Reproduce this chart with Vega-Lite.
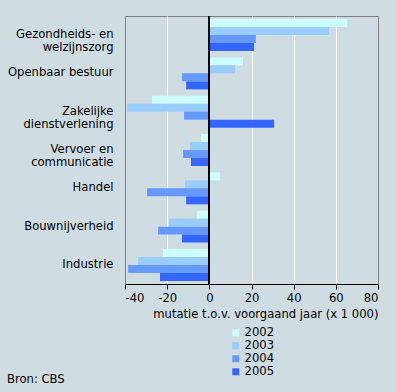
{
  "$schema": "https://vega.github.io/schema/vega-lite/v6.json",
  "width": 253,
  "height": 268,
  "autosize": "none",
  "padding": {"left": 125, "top": 16, "right": 18, "bottom": 108},
  "background": "#cfdce1",
  "config": {
    "font": "DejaVu Sans",
    "view": {"fill": "#cfdce1", "stroke": "#808080", "strokeWidth": 1}
  },
  "data": {
    "values": [
      {"sector": "Gezondheids- en welzijnszorg", "jaar": "2002", "mutatie": 65.3},
      {"sector": "Gezondheids- en welzijnszorg", "jaar": "2003", "mutatie": 56.8},
      {"sector": "Gezondheids- en welzijnszorg", "jaar": "2004", "mutatie": 22.1},
      {"sector": "Gezondheids- en welzijnszorg", "jaar": "2005", "mutatie": 21.2},
      {"sector": "Openbaar bestuur", "jaar": "2002", "mutatie": 16.0},
      {"sector": "Openbaar bestuur", "jaar": "2003", "mutatie": 12.2},
      {"sector": "Openbaar bestuur", "jaar": "2004", "mutatie": -13.0},
      {"sector": "Openbaar bestuur", "jaar": "2005", "mutatie": -11.0},
      {"sector": "Zakelijke dienstverlening", "jaar": "2002", "mutatie": -27.2},
      {"sector": "Zakelijke dienstverlening", "jaar": "2003", "mutatie": -39.0},
      {"sector": "Zakelijke dienstverlening", "jaar": "2004", "mutatie": -12.0},
      {"sector": "Zakelijke dienstverlening", "jaar": "2005", "mutatie": 30.7},
      {"sector": "Vervoer en communicatie", "jaar": "2002", "mutatie": -3.9},
      {"sector": "Vervoer en communicatie", "jaar": "2003", "mutatie": -9.2},
      {"sector": "Vervoer en communicatie", "jaar": "2004", "mutatie": -12.5},
      {"sector": "Vervoer en communicatie", "jaar": "2005", "mutatie": -8.7},
      {"sector": "Handel", "jaar": "2002", "mutatie": 5.0},
      {"sector": "Handel", "jaar": "2003", "mutatie": -11.5},
      {"sector": "Handel", "jaar": "2004", "mutatie": -29.5},
      {"sector": "Handel", "jaar": "2005", "mutatie": -11.0},
      {"sector": "Bouwnijverheid", "jaar": "2002", "mutatie": -5.8},
      {"sector": "Bouwnijverheid", "jaar": "2003", "mutatie": -19.1},
      {"sector": "Bouwnijverheid", "jaar": "2004", "mutatie": -24.3},
      {"sector": "Bouwnijverheid", "jaar": "2005", "mutatie": -13.0},
      {"sector": "Industrie", "jaar": "2002", "mutatie": -22.0},
      {"sector": "Industrie", "jaar": "2003", "mutatie": -33.8},
      {"sector": "Industrie", "jaar": "2004", "mutatie": -38.5},
      {"sector": "Industrie", "jaar": "2005", "mutatie": -23.4}
    ]
  },
  "layer": [
    {
      "mark": {"type": "bar"},
      "encoding": {
        "y": {
          "field": "sector",
          "type": "nominal",
          "sort": null,
          "scale": {"paddingInner": 0.165, "paddingOuter": 0.08},
          "axis": {
            "title": null,
            "domain": false,
            "ticks": false,
            "labelFontSize": 11.6,
            "labelColor": "#000000",
            "labelPadding": 12,
            "labelLimit": 200,
            "labelLineHeight": 13,
            "labelExpr": "datum.label == 'Gezondheids- en welzijnszorg' ? ['Gezondheids- en', 'welzijnszorg'] : datum.label == 'Zakelijke dienstverlening' ? ['Zakelijke', 'dienstverlening'] : datum.label == 'Vervoer en communicatie' ? ['Vervoer en', 'communicatie'] : datum.label"
          }
        },
        "yOffset": {"field": "jaar", "type": "nominal", "sort": "ascending", "scale": {"paddingInner": 0, "paddingOuter": 0}},
        "x": {
          "field": "mutatie",
          "type": "quantitative",
          "scale": {"domain": [-40, 80], "nice": false},
          "axis": {
            "values": [-40, -20, 0, 20, 40, 60, 80],
            "labelExpr": "'' + datum.value",
            "title": "mutatie t.o.v. voorgaand jaar (x 1 000)",
            "titleFontSize": 11.6,
            "titleFontWeight": "normal",
            "titleColor": "#000000",
            "titleAnchor": "end",
            "titlePadding": 5,
            "labelFontSize": 11.6,
            "labelColor": "#000000",
            "labelPadding": 3,
            "domainColor": "#000000",
            "domainWidth": 1,
            "tickColor": "#000000",
            "tickSize": 5,
            "grid": true,
            "gridColor": {"condition": {"test": "datum.value == -40 || datum.value == 80", "value": "#808080"}, "value": "#ffffff"},
            "gridWidth": 1
          }
        },
        "color": {
          "field": "jaar",
          "type": "nominal",
          "scale": {"domain": ["2002", "2003", "2004", "2005"], "range": ["#ccffff", "#99ccff", "#6699ff", "#3366ff"]},
          "legend": {
            "title": null,
            "orient": "none",
            "legendX": 105,
            "legendY": 311,
            "symbolType": "square",
            "symbolSize": 49,
            "symbolStrokeWidth": 0,
            "labelFontSize": 11.6,
            "labelColor": "#000000",
            "labelOffset": 3,
            "rowPadding": 0
          }
        }
      }
    },
    {
      "mark": {"type": "rule", "color": "#000000", "strokeWidth": 1},
      "encoding": {"x": {"datum": 0}}
    },
    {
      "data": {"values": [{"bron": "Bron: CBS"}]},
      "mark": {"type": "text", "align": "left", "baseline": "middle", "fontSize": 11.6, "color": "#000000"},
      "encoding": {"text": {"field": "bron", "type": "nominal"}, "x": {"value": -118}, "y": {"value": 364}}
    }
  ]
}
